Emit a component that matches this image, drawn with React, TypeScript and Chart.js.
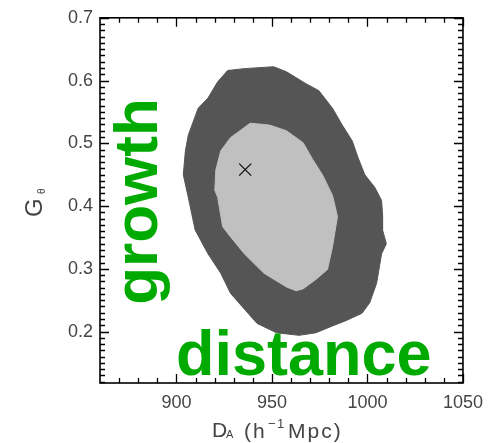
import React, { useEffect, useRef } from "react";
import { Chart, registerables } from "chart.js";

Chart.register(...registerables);

// ---- data ----
// outer (2-sigma) contour: D_A [h^-1 Mpc], G_theta
const outerDA = [926.8, 935.5, 950.9, 957.6, 967.8, 974.5, 981.7, 986.8, 992.0, 995.1, 998.6, 1003.8, 1007.4, 1007.9, 1007.9, 1009.9, 1007.4, 1004.8, 1001.2, 997.1, 988.4, 981.7, 973.0, 964.2, 952.4, 942.2, 935.5, 928.3, 923.2, 916.5, 909.8, 906.2, 903.6, 904.7, 906.2, 911.4, 916.5, 921.6, 926.8];
const outerG = [0.616, 0.619, 0.622, 0.614, 0.595, 0.584, 0.556, 0.529, 0.504, 0.477, 0.450, 0.430, 0.409, 0.386, 0.362, 0.340, 0.324, 0.277, 0.246, 0.229, 0.217, 0.209, 0.198, 0.194, 0.198, 0.213, 0.236, 0.261, 0.293, 0.324, 0.362, 0.414, 0.450, 0.488, 0.513, 0.556, 0.572, 0.598, 0.616];
// inner (1-sigma) contour
const innerDA = [938.6, 948.8, 957.6, 966.3, 971.4, 976.6, 981.7, 983.2, 984.3, 981.7, 979.1, 973.0, 966.3, 962.7, 957.6, 945.8, 935.5, 928.3, 924.2, 921.6, 920.1, 920.6, 923.2, 928.3, 938.6];
const innerG = [0.532, 0.529, 0.520, 0.501, 0.474, 0.449, 0.417, 0.398, 0.383, 0.335, 0.299, 0.283, 0.268, 0.265, 0.271, 0.293, 0.324, 0.351, 0.367, 0.414, 0.425, 0.457, 0.488, 0.509, 0.532];
// best fit
const bestDA = [936];
const bestG = [0.458];

const xTickValues = [900, 950, 1000, 1050];
const yTickValues = [0.2, 0.3, 0.4, 0.5, 0.6, 0.7];
const xMinorStep = 10;
const yMinorStep = 0.01;
const xMin = 860;
const xMax = 1050;
const yMin = 0.118;
const yMax = 0.7;

const annotationGrowth = "growth";
const annotationDistance = "distance";

const FONT = "'Liberation Sans', Arial, Helvetica, sans-serif";
const LABEL_COLOR = "#444444";
const GREEN = "#00aa00";

const toPoints = (xs: number[], ys: number[]) => xs.map((x, i) => ({ x, y: ys[i] }));

const framePlugin = {
  id: "frameTicks",
  afterDatasetsDraw(chart: any) {
    const { ctx, chartArea: a, scales } = chart;
    const x = scales.x;
    const y = scales.y;
    ctx.save();
    ctx.strokeStyle = "#000000";
    ctx.lineWidth = 1.3;
    ctx.beginPath();
    const nx = Math.round((xMax - xMin) / xMinorStep);
    for (let i = 1; i <= nx; i++) {
      const v = xMin + i * xMinorStep;
      const major = xTickValues.some((t) => Math.abs(t - v) < 1e-6);
      const L = major ? 9 : 5;
      const px = Math.round(x.getPixelForValue(v)) + 0.5;
      ctx.moveTo(px, a.bottom);
      ctx.lineTo(px, a.bottom - L);
      ctx.moveTo(px, a.top);
      ctx.lineTo(px, a.top + L);
    }
    const y0 = Math.ceil(yMin / yMinorStep - 1e-9);
    const y1 = Math.floor(yMax / yMinorStep + 1e-9);
    for (let i = y0; i <= y1; i++) {
      const v = i * yMinorStep;
      const major = yTickValues.some((t) => Math.abs(t - v) < 1e-6);
      const L = major ? 9 : 5;
      const py = Math.round(y.getPixelForValue(v)) + 0.5;
      ctx.moveTo(a.left, py);
      ctx.lineTo(a.left + L, py);
      ctx.moveTo(a.right, py);
      ctx.lineTo(a.right - L, py);
    }
    ctx.stroke();
    ctx.lineWidth = 1.6;
    ctx.strokeRect(a.left, a.top, a.right - a.left, a.bottom - a.top);
    ctx.restore();
  },
  afterDraw(chart: any) {
    const { ctx, chartArea: a } = chart;
    ctx.save();
    // x title: D_A (h^-1 Mpc)
    ctx.fillStyle = LABEL_COLOR;
    ctx.textBaseline = "alphabetic";
    ctx.textAlign = "left";
    const base = a.bottom + 54;
    const x0 = a.left;
    ctx.font = `21px ${FONT}`;
    ctx.fillText("D", x0 + 112, base);
    ctx.font = `11px ${FONT}`;
    ctx.fillText("A", x0 + 126, base + 1);
    ctx.font = `21px ${FONT}`;
    (ctx as any).letterSpacing = "2px";
    ctx.fillText("(h", x0 + 144, base + 1);
    (ctx as any).letterSpacing = "0px";
    ctx.font = `13px ${FONT}`;
    ctx.fillText("\u2212", x0 + 168, base - 9);
    ctx.fillText("1", x0 + 177, base - 9);
    ctx.font = `21px ${FONT}`;
    (ctx as any).letterSpacing = "2px";
    ctx.fillText("Mpc)", x0 + 188, base + 1);
    (ctx as any).letterSpacing = "0px";

    // y title: G_theta
    ctx.save();
    ctx.translate(42, 217);
    ctx.rotate(-Math.PI / 2);
    ctx.font = `24px ${FONT}`;
    ctx.fillText("G", 0, 0);
    ctx.font = `10px ${FONT}`;
    ctx.fillText("\u03b8", 23, 3);
    ctx.restore();

    // green annotations
    ctx.fillStyle = GREEN;
    ctx.font = `bold 63px ${FONT}`;
    ctx.fillText(annotationDistance, a.left + 76, a.bottom - 8);
    ctx.save();
    ctx.translate(a.left + 57, a.top + 287);
    ctx.rotate(-Math.PI / 2);
    ctx.font = `bold 62px ${FONT}`;
    ctx.fillText(annotationGrowth, 0, 0);
    ctx.restore();
    ctx.restore();
  },
};

export default function App() {
  const ref = useRef<HTMLCanvasElement | null>(null);
  useEffect(() => {
    if (!ref.current) return;
    const chart = new Chart(ref.current, {
      type: "scatter",
      data: {
        datasets: [
          {
            label: "best fit",
            data: toPoints(bestDA, bestG),
            pointStyle: "crossRot",
            pointRadius: 8.5,
            borderColor: "#111111",
            backgroundColor: "#111111",
            borderWidth: 1.3,
            showLine: false,
            order: 1,
          } as any,
          {
            label: "1 sigma",
            data: toPoints(innerDA, innerG),
            showLine: true,
            fill: "shape",
            backgroundColor: "#c0c0c0",
            borderColor: "#c0c0c0",
            borderWidth: 1,
            pointRadius: 0,
            tension: 0,
            order: 2,
          } as any,
          {
            label: "2 sigma",
            data: toPoints(outerDA, outerG),
            showLine: true,
            fill: "shape",
            backgroundColor: "#555555",
            borderColor: "#555555",
            borderWidth: 1,
            pointRadius: 0,
            tension: 0,
            order: 3,
          } as any,
        ],
      },
      options: {
        animation: false,
        responsive: false,
        devicePixelRatio: 1,
        layout: { padding: { top: 13, right: 22, left: 0, bottom: 0 } },
        plugins: {
          legend: { display: false },
          tooltip: { enabled: false },
        },
        scales: {
          x: {
            type: "linear",
            min: xMin,
            max: xMax,
            grid: { display: false, drawTicks: false },
            border: { display: false },
            afterBuildTicks: (s: any) => {
              s.ticks = xTickValues.map((value) => ({ value }));
            },
            afterFit: (s: any) => {
              s.height = 60;
            },
            ticks: {
              padding: 9,
              maxRotation: 0,
              color: LABEL_COLOR,
              font: { family: FONT, size: 18 },
              callback: (v: any) => String(v),
            },
          },
          y: {
            type: "linear",
            min: yMin,
            max: yMax,
            grid: { display: false, drawTicks: false },
            border: { display: false },
            afterBuildTicks: (s: any) => {
              s.ticks = yTickValues.map((value) => ({ value }));
            },
            afterFit: (s: any) => {
              s.width = 100;
            },
            ticks: {
              padding: 7,
              color: LABEL_COLOR,
              font: { family: FONT, size: 18 },
              callback: (v: any) => Number(v).toFixed(1),
            },
          },
        },
      },
      plugins: [framePlugin],
    });
    return () => chart.destroy();
  }, []);
  return (
    <div style={{ position: "absolute", left: 0, top: 0, width: 492, height: 443, background: "#fff" }}>
      <canvas ref={ref} width={492} height={443} style={{ display: "block", width: 492, height: 443 }} />
    </div>
  );
}
